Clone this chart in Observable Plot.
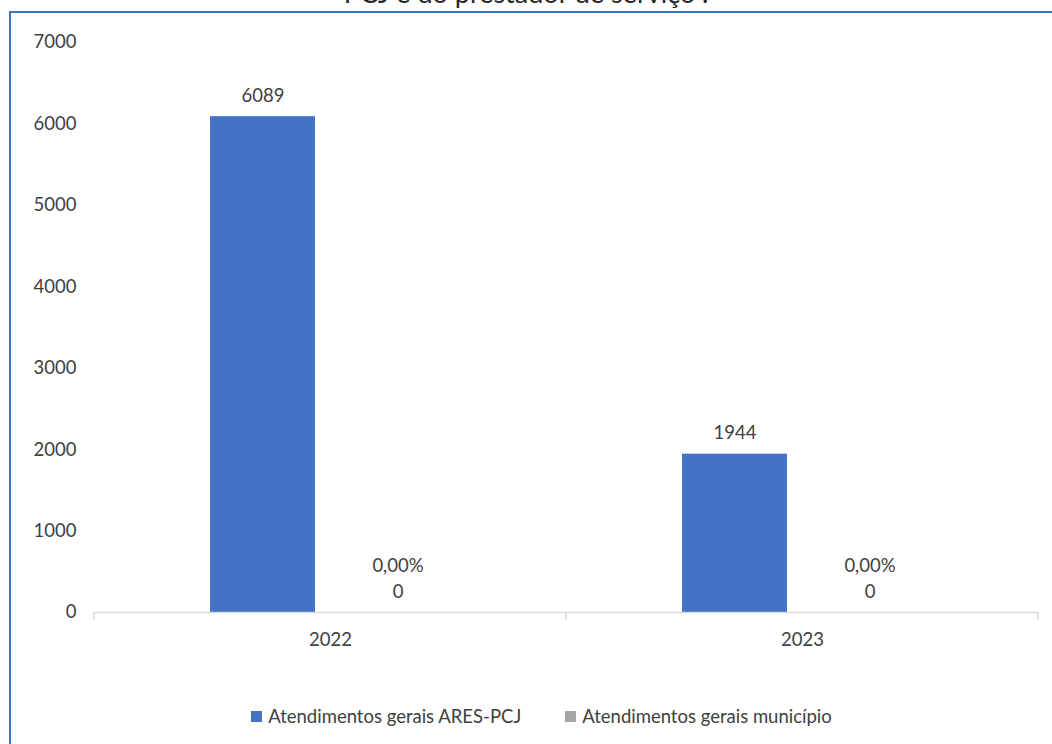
<!DOCTYPE html>
<html>
<head>
<meta charset="utf-8">
<script src="https://cdn.jsdelivr.net/npm/d3@7"></script>
<script src="https://cdn.jsdelivr.net/npm/@observablehq/plot@0.6"></script>
<style>
  body { margin: 0; width: 1052px; height: 744px; overflow: hidden; background: #fff; position: relative; font-family: Lato, "Open Sans", sans-serif; }
  #title { position: absolute; left: 0; top: -24px; width: 1052px; text-align: center; font-family: Lato, sans-serif; font-size: 27px; color: #262626; white-space: nowrap; }
  #frame { position: absolute; left: 9px; top: 11px; width: 1200px; height: 900px; border: 2px solid #4472C4; box-sizing: border-box; }
  #chart { position: absolute; left: 0; top: 0; }
  #legend { position: absolute; left: 0; top: 705px; width: 1083px; display: flex; justify-content: center; gap: 44px; font-size: 18.5px; color: #404040; }
  #legend .item { display: flex; align-items: center; gap: 6px; }
  #legend .swatch { width: 11px; height: 11px; display: inline-block; }
</style>
</head>
<body>
<div id="title">PCJ e do prestador de serviço".</div>
<div id="frame"></div>
<div id="chart"></div>
<div id="legend"></div>
<script>
// Attendance counts per year
const years = ["2022", "2023"];
const series = ["Atendimentos gerais ARES-PCJ", "Atendimentos gerais município"];
const aresValues = [6089, 1944];
const municipioValues = [0, 0];
const municipioShares = ["0,00%", "0,00%"];
const seriesColors = ["#4472C4", "#A5A5A5"];
const yTicks = [0, 1000, 2000, 3000, 4000, 5000, 6000, 7000];

const rows = years.flatMap((year, i) => [
  { year, series: series[0], value: aresValues[i], label: String(aresValues[i]) },
  { year, series: series[1], value: municipioValues[i], label: municipioShares[i] + "\n" + municipioValues[i] }
]);

const textColor = "#404040";

const chart = Plot.plot({
  width: 1052,
  height: 652,
  marginLeft: 94,
  marginRight: 14,
  marginTop: 42,
  marginBottom: 40,
  style: { fontFamily: "Lato, 'Open Sans', sans-serif", fontSize: "18.5px", color: textColor, background: "transparent", overflow: "visible" },
  fx: { domain: years, padding: 0, label: null, tickSize: 0, tickPadding: 20 },
  x: { domain: series, paddingInner: 0.222, paddingOuter: 0.859, axis: null },
  y: { domain: [0, 7000], ticks: yTicks, tickSize: 0, tickPadding: 18, label: null, tickFormat: d => String(d) },
  color: { domain: series, range: seriesColors },
  marks: [
    Plot.barY(rows, { fx: "year", x: "series", y: "value", fill: "series" }),
    Plot.ruleY([0], { stroke: "#D9D9D9", strokeWidth: 1.5 }),
    Plot.text(rows, { fx: "year", x: "series", y: "value", text: "label", lineAnchor: "bottom", lineHeight: 1.4, dy: -15, fill: textColor, fontSize: 18.5 })
  ]
});

// small tick marks below the baseline at each category boundary
const fxScale = chart.scale("fx");
const yScale = chart.scale("y");
const baseY = yScale.apply(0);
const edges = years.map(y => fxScale.apply(y)).concat([fxScale.apply(years[years.length - 1]) + fxScale.bandwidth]);
d3.select(chart).append("g")
  .attr("stroke", "#D9D9D9").attr("stroke-width", 1.5)
  .selectAll("line").data(edges).join("line")
  .attr("x1", d => d).attr("x2", d => d)
  .attr("y1", baseY).attr("y2", baseY + 8);

document.getElementById("chart").appendChild(chart);

// legend
const legend = d3.select("#legend");
series.forEach((s, i) => {
  const item = legend.append("div").attr("class", "item");
  item.append("span").attr("class", "swatch").style("background", seriesColors[i]);
  item.append("span").text(s);
});
</script>
</body>
</html>
